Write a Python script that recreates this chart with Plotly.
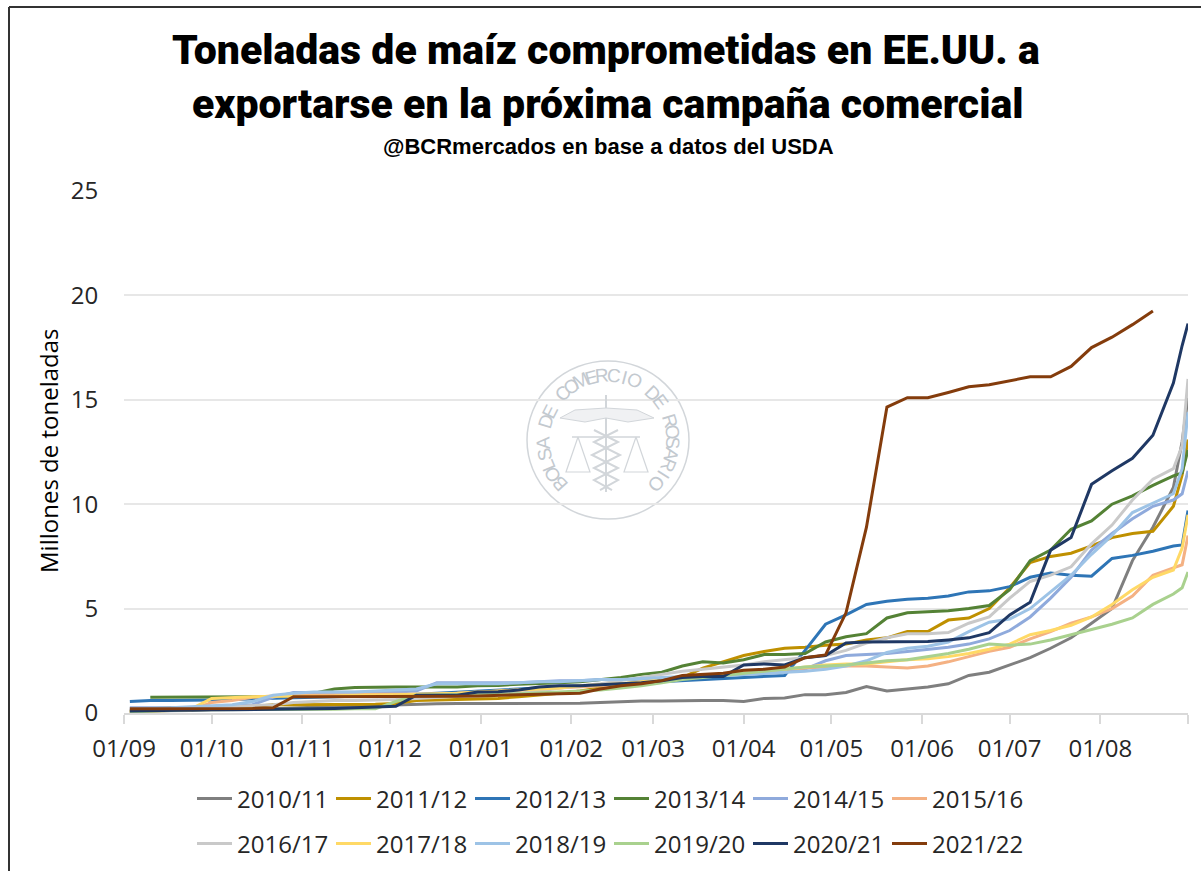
import math
import pandas as pd
import plotly.graph_objects as go

week_dates = [d.strftime("%Y-%m-%d") for d in pd.date_range("2021-09-03", periods=51, freq="7D")]
dates = week_dates + ["2022-08-26", "2022-08-29", "2022-08-31"]

tick_dates = ["2021-09-01","2021-10-01","2021-11-01","2021-12-01","2022-01-01","2022-02-01",
              "2022-03-01","2022-04-01","2022-05-01","2022-06-01","2022-07-01","2022-08-01","2022-08-31"]
tick_labels = ["01/09","01/10","01/11","01/12","01/01","01/02","01/03","01/04","01/05","01/06","01/07","01/08",""]

s2010 = [.1,.1,.12,.12,.15,.15,.18,.2,.25,.28, .3,.33,.36,.38,.43,.44,.45,.45,.45,.46,
         .46,.47,.47,.5,.55,.58,.58,.6,.6,.6, .55,.7,.72,.88,.88,.98,1.27,1.05,1.15,1.25,
         1.4,1.8,1.95,2.3,2.65,3.1,3.6,4.3,5.0,7.3, 8.9,10.8,13.0,15.1]
s2011 = [.05,.2,.25,.25,.25,.25,.3,.4,.4,.4, .4,.42,.42,.45,.6,.62,.65,.68,.7,.78,
         .85,.95,1.05,1.2,1.35,1.5,1.55,1.7,2.15,2.45, 2.75,2.95,3.1,3.15,3.25,3.3,3.5,3.6,3.9,3.9,
         4.45,4.55,5.0,6.0,7.2,7.5,7.65,8.0,8.4,8.6, 8.7,9.9,11.4,13.1]
s2012 = [.55,.6,.6,.6,.62,.65,.68,.7,.72,.75, .78,.8,.82,.85,.9,.95,1.0,1.05,1.1,1.15,
         1.2,1.25,1.3,1.35,1.4,1.45,1.5,1.55,1.6,1.65, 1.7,1.72,1.8,3.0,4.25,4.7,5.2,5.35,5.45,5.5,
         5.6,5.8,5.85,6.05,6.5,6.7,6.6,6.55,7.4,7.55, 7.75,8.0,8.05,9.7]
s2013 = [None,.75,.75,.75,.75,.75,.78,.8,.85,.95, 1.15,1.22,1.25,1.25,1.25,1.25,1.25,1.3,1.32,1.38,
         1.4,1.45,1.5,1.6,1.7,1.85,1.95,2.25,2.45,2.4, 2.55,2.8,2.8,2.85,3.4,3.65,3.8,4.55,4.8,4.85,
         4.9,5.0,5.15,5.9,7.3,7.8,8.8,9.2,10.0,10.4, 10.9,11.35,11.5,12.6]
s2014 = [.25,.25,.25,.25,.3,.35,.4,.75,.98,.98, .98,1.0,1.0,1.0,1.05,1.45,1.45,1.45,1.45,1.45,
         1.5,1.55,1.55,1.6,1.6,1.6,1.65,1.7,1.75,1.8, 1.85,1.9,1.95,2.1,2.5,2.75,2.8,2.85,2.95,3.05,
         3.15,3.3,3.55,3.95,4.6,5.5,6.5,7.8,8.6,9.3, 9.9,10.2,10.5,11.6]
s2015 = [.05,.08,.1,.15,.5,.6,.75,.82,.85,.85, .88,.88,.9,.9,.9,.9,.95,1.0,1.05,1.1,
         1.15,1.2,1.25,1.3,1.35,1.45,1.55,1.65,1.75,1.85, 1.95,2.0,2.1,2.15,2.2,2.25,2.25,2.2,2.15,2.25,
         2.45,2.7,2.95,3.15,3.55,3.9,4.3,4.6,5.0,5.6, 6.6,6.95,7.1,8.5]
s2016 = [.1,.12,.15,.2,.25,.3,.35,.4,.5,.55, .6,.6,.62,.65,.7,.75,.8,.85,.9,.95,
         1.05,1.2,1.3,1.4,1.55,1.7,1.85,2.0,2.1,2.2, 2.3,2.45,2.55,2.65,2.75,3.0,3.35,3.6,3.8,3.8,
         3.85,4.3,4.6,5.5,6.3,6.6,7.0,8.1,9.0,10.2, 11.2,11.7,12.8,16.0]
s2017 = [.05,.1,.12,.2,.7,.75,.78,.8,.8,.82, .82,.85,.85,.88,.9,.92,.95,1.0,1.05,1.1,
         1.15,1.2,1.3,1.35,1.4,1.5,1.6,1.65,1.75,1.8, 1.9,2.0,2.1,2.2,2.3,2.35,2.35,2.45,2.55,2.6,
         2.7,2.85,3.05,3.3,3.75,3.95,4.2,4.6,5.2,5.9, 6.5,6.85,7.9,9.5]
s2018 = [.2,.22,.25,.3,.35,.4,.55,.85,.95,1.0, 1.0,1.0,1.05,1.1,1.15,1.4,1.4,1.4,1.4,1.45,
         1.5,1.5,1.55,1.6,1.6,1.65,1.7,1.75,1.75,1.8, 1.85,1.9,1.95,2.0,2.1,2.25,2.5,2.9,3.1,3.2,
         3.4,3.9,4.35,4.5,5.0,5.8,6.6,7.6,8.5,9.6, 10.05,10.5,11.7,14.4]
s2019 = [.05,.1,.12,.15,.15,.15,.15,.15,.18,.18, .18,.2,.2,.55,.85,.88,.88,.9,.9,.92,
         .95,1.0,1.05,1.1,1.2,1.3,1.45,1.6,1.7,1.8, 1.9,2.0,2.1,2.2,2.25,2.3,2.4,2.5,2.55,2.7,
         2.85,3.05,3.3,3.25,3.3,3.5,3.75,4.0,4.25,4.55, 5.2,5.7,6.0,6.75]
s2020 = [.1,.12,.14,.15,.15,.15,.16,.17,.18,.2, .22,.25,.28,.32,.85,.85,.85,1.0,1.02,1.1,
         1.25,1.3,1.3,1.35,1.4,1.45,1.55,1.7,1.75,1.75, 2.3,2.35,2.3,2.65,2.75,3.35,3.4,3.4,3.4,3.42,
         3.5,3.6,3.85,4.7,5.3,7.8,8.4,10.95,11.6,12.2, 13.3,15.8,17.6,18.65]
s2021 = [.2,.2,.2,.2,.2,.2,.22,.25,.78,.78, .78,.78,.78,.78,.78,.78,.8,.82,.85,.88,
         .9,.95,.95,1.15,1.3,1.4,1.55,1.8,1.85,1.9, 2.05,2.1,2.2,2.65,2.78,4.8,8.9,14.65,15.1,15.1,
         15.35,15.62,15.72,15.9,16.1,16.1,16.6,17.5,18.0,18.6, 19.25,None,None,None]

names = ["2010/11","2011/12","2012/13","2013/14","2014/15","2015/16",
         "2016/17","2017/18","2018/19","2019/20","2020/21","2021/22"]
values = [s2010,s2011,s2012,s2013,s2014,s2015,s2016,s2017,s2018,s2019,s2020,s2021]
colors = ["#7F7F7F","#BF9000","#2E75B6","#548235","#8FAADC","#F4B183",
          "#C9C9C9","#FFD966","#9DC3E6","#A9D18E","#1F3864","#843C0C"]

W, H = 1201, 871
L, R, T, B = 124, 1188, 191, 713
def px(x): return (x - L) / (R - L)
def py(y): return (B - y) / (B - T)

fig = go.Figure()
for i, (n, v, c) in enumerate(zip(names, values, colors)):
    fig.add_trace(go.Scatter(x=dates, y=v, name=n, mode="lines",
                             line=dict(color=c, width=3),
                             legend="legend" if i < 6 else "legend2"))

TEXT = "#262626"
sans = "Open Sans"
def note(x, y, text, **kw):
    return dict(x=px(x), y=py(y), xref="paper", yref="paper", text=text, showarrow=False,
                xanchor="center", yanchor="middle", **kw)

TITLE_FONT = dict(family="Roboto", size=41, color="#000000", weight=900)
anns = [
    note(606, 50, "Toneladas de maíz comprometidas en EE.UU. a", font=TITLE_FONT),
    note(608, 104, "exportarse en la próxima campaña comercial", font=TITLE_FONT),
    note(608, 147, "@BCRmercados en base a datos del USDA",
         font=dict(family="Liberation Sans", size=22, color="#000000", weight="bold")),
    note(48, 451, "Millones de toneladas", textangle=-90,
         font=dict(family=sans, size=24, color="#000000")),
]

# watermark seal
seal = "BOLSA DE COMERCIO DE ROSARIO"
cx, cy, rad = 608, 440, 65
for k, ch in enumerate(seal):
    ang = -132 + 264 * k / (len(seal) - 1)
    a = math.radians(ang)
    anns.append(note(cx + rad * math.sin(a), cy - rad * math.cos(a), ch, textangle=ang,
                     font=dict(family="Liberation Sans", size=19, color="#C3C9CF")))

SEAL = "#D2D6DA"
def line_shape(path, w=1.2, col=SEAL, fill=None):
    return dict(type="path", xref="paper", yref="paper",
                path=" ".join(("M" if i == 0 else "L") + f"{px(x):.5f},{py(y):.5f}" for i, (x, y) in enumerate(path)),
                line=dict(color=col, width=w), fillcolor=fill or "rgba(0,0,0,0)", layer="above")

shapes = [
    dict(type="circle", xref="paper", yref="paper", x0=px(cx-81), x1=px(cx+81), y0=py(cy+79), y1=py(cy-79),
         line=dict(color=SEAL, width=1.5), layer="below"),
    line_shape([(606,395),(606,492)], 2),
    line_shape([(606,408),(575,410),(560,418),(585,422),(606,418)], 1, SEAL, "#F0F1F3"),
    line_shape([(606,408),(637,410),(654,418),(628,422),(606,418)], 1, SEAL, "#F0F1F3"),
    line_shape([(572,437),(640,437)], 1.5),
    line_shape([(578,437),(566,472),(590,472),(578,437)], 1.2),
    line_shape([(636,437),(624,472),(648,472),(636,437)], 1.2),
    line_shape([(618,430),(594,442),(620,455),(594,468),(618,480),(600,490)], 2),
    line_shape([(594,430),(618,442),(592,455),(618,468),(594,480),(612,490)], 2),
    # page frame
    dict(type="line", xref="paper", yref="paper", x0=px(9), x1=px(9), y0=py(7), y1=py(871),
         line=dict(color="#333333", width=2), layer="above"),
    dict(type="line", xref="paper", yref="paper", x0=px(9), x1=px(1201), y0=py(7), y1=py(7),
         line=dict(color="#333333", width=2), layer="above"),
]

legend_common = dict(orientation="h", xanchor="left", yanchor="middle", x=px(192),
                     entrywidth=89, entrywidthmode="pixels", itemwidth=35,
                     font=dict(family=sans, size=24, color=TEXT), bgcolor="rgba(0,0,0,0)",
                     traceorder="normal", tracegroupgap=0)

fig.update_layout(
    width=W, height=H, autosize=False,
    margin=dict(l=L, r=W-R, t=T, b=H-B, pad=0, autoexpand=False),
    paper_bgcolor="#FFFFFF", plot_bgcolor="#FFFFFF",
    showlegend=True,
    legend=dict(y=py(799), **legend_common),
    legend2=dict(y=py(844), **legend_common),
    annotations=anns, shapes=shapes,
    xaxis=dict(type="date", range=["2021-09-01", "2022-08-31"], tickmode="array",
               tickvals=tick_dates, ticktext=tick_labels, ticks="outside", ticklen=9,
               ticklabelstandoff=4, automargin=False,
               tickcolor="#D9D9D9", tickwidth=1.5, showgrid=False, showline=True,
               linecolor="#D9D9D9", linewidth=2, zeroline=False,
               tickfont=dict(family=sans, size=24, color=TEXT)),
    yaxis=dict(range=[0, 25], tickmode="array", tickvals=[0,5,10,15,20,25],
               ticktext=["0","5","10","15","20","25"], showgrid=True, automargin=False,
               gridcolor="#E7E7E7", gridwidth=2, zeroline=False, showline=False,
               ticks="outside", ticklen=20, tickcolor="rgba(0,0,0,0)",
               tickfont=dict(family=sans, size=24, color=TEXT)),
)
fig.write_html("out.html", config={"displayModeBar": False},
               post_script="document.body.style.margin='0';document.body.style.overflow='hidden';")
